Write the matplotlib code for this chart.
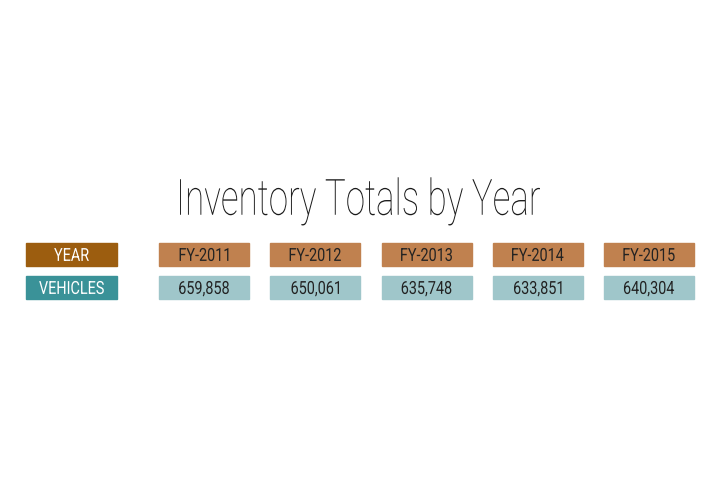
import matplotlib
matplotlib.use("Agg")
import matplotlib.pyplot as plt
from matplotlib.patches import Rectangle, PathPatch
from matplotlib.textpath import TextPath
from matplotlib.font_manager import FontProperties
from matplotlib.transforms import Affine2D

title = "Inventory Totals by Year"
years = ["FY-2011", "FY-2012", "FY-2013", "FY-2014", "FY-2015"]
vehicles = [659858, 650061, 635748, 633851, 640304]
row_labels = ["YEAR", "VEHICLES"]

fig = plt.figure(figsize=(7.2, 4.8), dpi=100)
ax = fig.add_axes([0, 0, 1, 1])
ax.set_xlim(0, 720); ax.set_ylim(480, 0); ax.axis("off")

def ntext(x, y, s, size, color, stretch=0.72, weight="normal"):
    fp = FontProperties(family="Roboto", weight=weight)
    tp = TextPath((0, 0), s, size=size, prop=fp)
    bb = tp.get_extents()
    cap = size * 0.711
    tr = (Affine2D().translate(-(bb.x0 + bb.x1) / 2, -cap / 2)
          .scale(stretch, -1).translate(x, y))
    ax.add_patch(PathPatch(tr.transform_path(tp), color=color, lw=0))

ntext(360, 197, title, 50, "#1a1a1a", stretch=0.70, weight="light")

label_colors = ["#9C5D0F", "#3A9298"]
cell_colors = ["#C0814F", "#9FC6CA"]
row_y = [243, 276]
h = 23
for r, lab in enumerate(row_labels):
    ax.add_patch(Rectangle((26, row_y[r]), 91, h, color=label_colors[r]))
    ntext(71.5, row_y[r] + h / 2, lab, 18, "white", stretch=0.8)
for i, (yr, v) in enumerate(zip(years, vehicles)):
    x = 159 + i * 111.25
    ax.add_patch(Rectangle((x, row_y[0]), 90, h, color=cell_colors[0]))
    ntext(x + 45, row_y[0] + h / 2, yr, 18, "#222", stretch=0.8)
    ax.add_patch(Rectangle((x, row_y[1]), 90, h, color=cell_colors[1]))
    ntext(x + 45, row_y[1] + h / 2, f"{v:,}", 18, "#222", stretch=0.8)

fig.savefig("out.png", dpi=100)
